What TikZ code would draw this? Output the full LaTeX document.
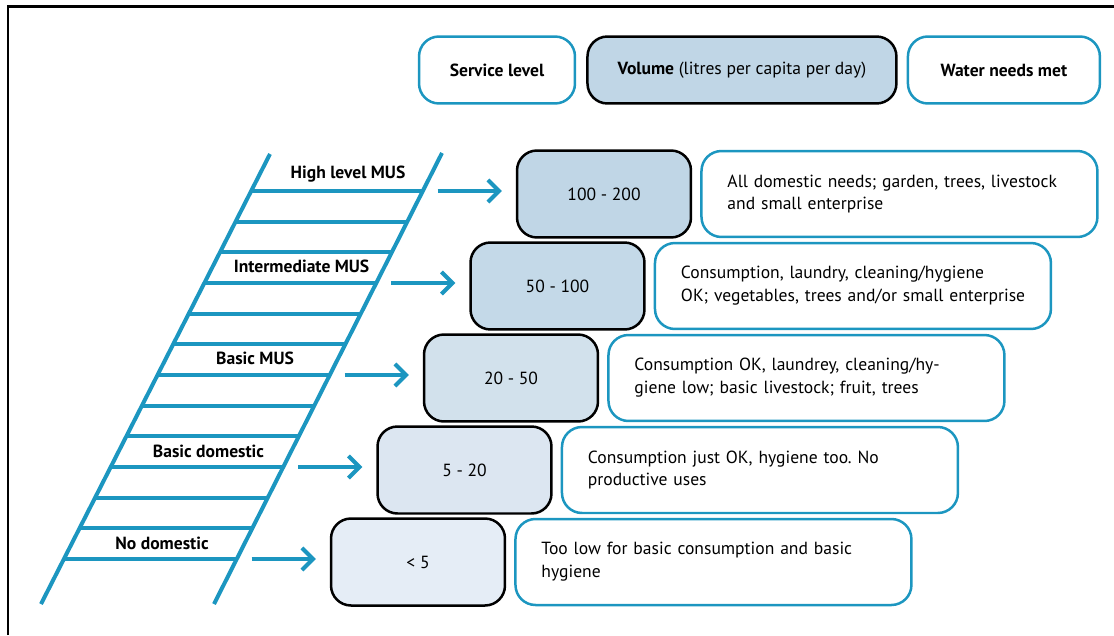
\documentclass[tikz,border=0pt]{standalone}
\usepackage{fontspec}
\setmainfont{PT Sans}
\usepackage{xcolor}
\usetikzlibrary{arrows.meta,positioning,calc}
\frenchspacing

\definecolor{ladderblue}{RGB}{28,150,192}
\definecolor{volA}{RGB}{192,214,230}
\definecolor{volB}{RGB}{196,217,232}
\definecolor{volC}{RGB}{210,225,236}
\definecolor{volD}{RGB}{220,230,241}
\definecolor{volE}{RGB}{229,237,246}

\begin{document}
\begin{tikzpicture}[
    x=0.02cm, y=-0.02cm,
    node distance=0.16cm and 0.16cm,
    every node/.style={font=\fontsize{10}{13}\selectfont},
    head/.style={rectangle, draw=ladderblue, line width=0.05cm, rounded corners=0.4cm, align=center, minimum height=1.34cm, font=\fontsize{10}{13}\selectfont\bfseries},
    volbox/.style={rectangle, draw=black, line width=0.05cm, rounded corners=0.4cm, align=center, minimum height=1.74cm, minimum width=3.48cm},
    needbox/.style={rectangle, draw=ladderblue, line width=0.05cm, rounded corners=0.4cm, align=left, minimum height=1.72cm, inner xsep=0.52cm, text width=6.88cm},
    steplabel/.style={font=\fontsize{10}{13}\selectfont\bfseries},
    rail/.style={draw=ladderblue, line width=0.08cm},
    arrow/.style={-{Straight Barb[length=0.22cm, width=0.44cm]}, line width=0.08cm, draw=ladderblue, shorten >=0.28cm}
]
    \useasboundingbox (0,0) rectangle (1114,635);
    \draw [line width=0.06cm] (8,635) -- (8,7) -- (1114,7);

    % column headings
    \node [head, minimum width=3.12cm] (hlevel) at (497,70) {Service level};
    \node [head, draw=black, fill=volA, minimum width=6.18cm, font=\fontsize{10}{13}\selectfont, right=0.2cm of hlevel] (hvol) {\textbf{Volume} (litres per capita per day)};
    \node [head, minimum width=3.84cm, right=0.18cm of hvol] (hneed) {Water needs met};

    % ladder
    \coordinate (lt) at (270,154);
    \coordinate (lb) at (41,604);
    \coordinate (rt) at (442,153);
    \coordinate (rb) at (214,604);
    \draw [rail] (lt) -- (lb);
    \draw [rail] (rt) -- (rb);
    \foreach \k in {0,...,12}
        \draw [rail] ($(lt)!{(37+30.667*\k)/450}!(lb)$) -- ++(172,0);

    \node [steplabel] (s1) at (348,174) {High level MUS};
    \node [steplabel] (s2) at (301.5,266) {Intermediate MUS};
    \node [steplabel] (s3) at (255,358) {Basic MUS};
    \node [steplabel] (s4) at (208.5,451) {Basic domestic};
    \node [steplabel] (s5) at (162,543) {No domestic};

    % volumes and needs
    \node [volbox, fill=volA] (v1) at (604,194) {100 - 200};
    \node [needbox, right=of v1] (n1) {All domestic needs; garden, trees, livestock\\and small enterprise};
    \node [volbox, fill=volB] (v2) at (557.5,286) {50 - 100};
    \node [needbox, right=of v2] (n2) {Consumption, laundry, cleaning/hygiene\\\mbox{OK; vegetables, trees and/or small enterprise}};
    \node [volbox, fill=volC] (v3) at (511,378) {20 - 50};
    \node [needbox, right=of v3] (n3) {Consumption OK, laundrey, cleaning/hy-\\giene low; basic livestock; fruit, trees};
    \node [volbox, fill=volD] (v4) at (464.5,470) {5 - 20};
    \node [needbox, right=of v4] (n4) {Consumption just OK, hygiene too. No\\productive uses};
    \node [volbox, fill=volE] (v5) at (418,562) {< 5};
    \node [needbox, right=of v5] (n5) {Too low for basic consumption and basic\\hygiene};

    % arrows
    \coordinate (a1) at (437.5,191);
    \coordinate (a2) at (391,283);
    \coordinate (a3) at (344.5,375);
    \coordinate (a4) at (298,467);
    \coordinate (a5) at (251.5,559);
    \draw [arrow] (a1) -- (a1 -| v1.west);
    \draw [arrow] (a2) -- (a2 -| v2.west);
    \draw [arrow] (a3) -- (a3 -| v3.west);
    \draw [arrow] (a4) -- (a4 -| v4.west);
    \draw [arrow] (a5) -- (a5 -| v5.west);
\end{tikzpicture}
\end{document}
